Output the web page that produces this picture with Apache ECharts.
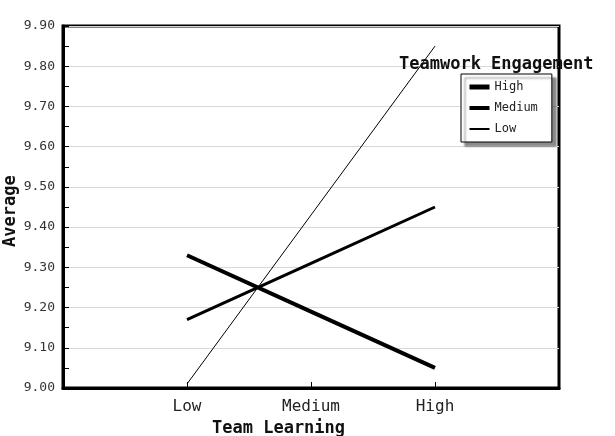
<!DOCTYPE html>
<html>
<head>
<meta charset="utf-8">
<title>Team Learning x Teamwork Engagement</title>
<script src="https://cdn.jsdelivr.net/npm/echarts@6/dist/echarts.min.js"></script>
<style>
  html, body { margin: 0; padding: 0; background: #fff; }
  #chart { width: 615px; height: 436px; }
</style>
</head>
<body>
<div id="chart"></div>
<script>
// categories (blank slots at both ends give the side padding)
var categories = ['', 'Low', 'Medium', 'High', ''];
var seriesNames = ['High', 'Medium', 'Low'];
var highValues = [null, 9.33, 9.19, 9.05, null];
var mediumValues = [null, 9.17, 9.31, 9.45, null];
var lowValues = [null, 9.01, 9.43, 9.85, null];
var lineWidths = [4, 3, 1];
var legendWidths = [5, 4, 2];

var mono = 'DejaVu Sans Mono';
var chart = echarts.init(document.getElementById('chart'));

var allValues = [highValues, mediumValues, lowValues];
var series = [];
var legendData = [];
for (var i = 0; i < seriesNames.length; i++) {
  series.push({
    name: seriesNames[i],
    type: 'line',
    data: allValues[i],
    symbol: 'none',
    lineStyle: { color: '#000', width: lineWidths[i] },
    itemStyle: { color: '#000' }
  });
  legendData.push({
    name: seriesNames[i],
    lineStyle: { width: legendWidths[i], color: '#000' }
  });
}

chart.setOption({
  backgroundColor: '#fff',
  animation: false,
  title: {
    text: 'Teamwork Engagement',
    left: 399,
    top: 56,
    padding: 0,
    textStyle: { fontFamily: mono, fontSize: 17, fontWeight: 'bold', color: '#111' }
  },
  legend: {
    orient: 'vertical',
    left: 461,
    top: 74,
    data: legendData,
    itemWidth: 20,
    itemHeight: 12,
    itemGap: 9,
    padding: [7, 14, 7, 6],
    backgroundColor: '#fff',
    borderColor: '#000',
    borderWidth: 1,
    borderRadius: 0,
    shadowColor: 'rgba(0,0,0,0.45)',
    shadowBlur: 2,
    shadowOffsetX: 4,
    shadowOffsetY: 4,
    itemStyle: { opacity: 0 },
    textStyle: { fontFamily: mono, fontSize: 12, color: '#222' }
  },
  grid: {
    left: 63,
    right: 56,
    top: 26,
    bottom: 48,
    show: true,
    borderColor: '#000',
    borderWidth: 3,
    backgroundColor: '#fff'
  },
  xAxis: {
    type: 'category',
    data: categories,
    boundaryGap: false,
    axisLine: { lineStyle: { color: '#000', width: 3 } },
    axisTick: {
      inside: true,
      length: 6,
      lineStyle: { color: '#000', width: 1 },
      interval: function (idx, val) { return val !== ''; }
    },
    axisLabel: {
      margin: 11,
      fontFamily: mono,
      fontSize: 16,
      color: '#222',
      interval: 0
    },
    splitLine: { show: false }
  },
  yAxis: {
    type: 'value',
    min: 9,
    max: 9.9,
    interval: 0.1,
    axisLine: { show: true, lineStyle: { color: '#000', width: 3 } },
    axisTick: { show: true, inside: true, length: 6, lineStyle: { color: '#000' } },
    minorTick: { show: true, splitNumber: 2, length: 6, lineStyle: { color: '#000' } },
    axisLabel: {
      margin: 8,
      fontFamily: mono,
      fontSize: 13,
      color: '#333',
      formatter: function (v) { return v.toFixed(2); }
    },
    splitLine: { show: true, lineStyle: { color: '#d8d8d8', width: 1 } }
  },
  graphic: [
    {
      type: 'text',
      left: 212,
      top: 420,
      style: { text: 'Team Learning', fontFamily: mono, fontSize: 17, fontWeight: 'bold', fill: '#111' }
    },
    {
      type: 'text',
      x: 2,
      y: 247,
      rotation: Math.PI / 2,
      style: { text: 'Average', fontFamily: mono, fontSize: 17, fontWeight: 'bold', fill: '#111' }
    }
  ],
  series: series
});
</script>
</body>
</html>
